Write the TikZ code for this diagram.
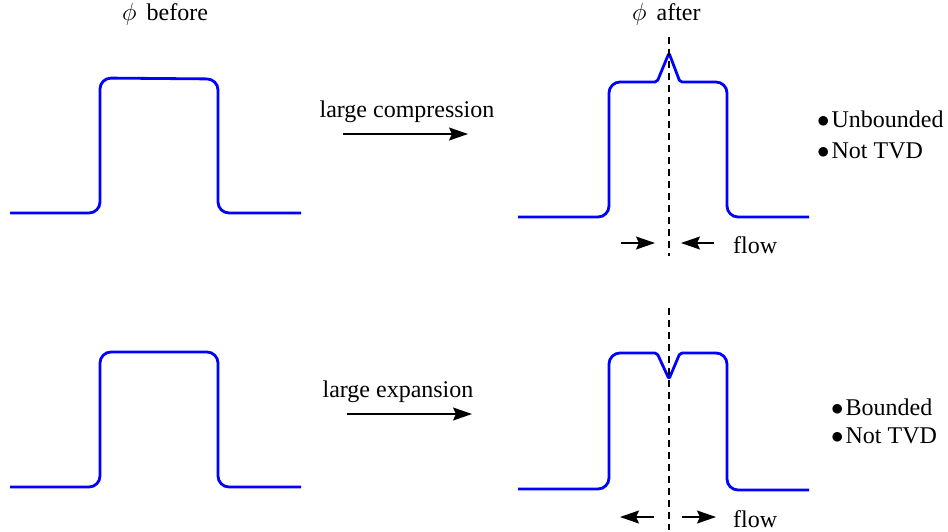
\documentclass[tikz,border=0pt]{standalone}
\usepackage{fontspec}
\setmainfont{Liberation Serif}
\usetikzlibrary{arrows.meta}
\tikzset{
  curve/.style={draw=blue,line width=2.8pt,rounded corners=11pt,line join=round},
  arr/.style={draw=black,line width=1.4pt,arrows={-Stealth[length=19pt,width=13pt,inset=3pt]}},
  axis/.style={draw=black,line width=1.2pt,dash pattern=on 7pt off 5pt},
  lbl/.style={inner sep=0pt,anchor=base,font=\fontsize{24}{28}\selectfont},
  lblw/.style={inner sep=0pt,anchor=base west,font=\fontsize{24}{28}\selectfont}}
\begin{document}
\begin{tikzpicture}[x=1pt,y=-1pt]
\useasboundingbox (0,0) rectangle (948,531);
% titles
\node[lblw] (tbefore) at (122,20) {$\phi$\hspace{10pt}before};
\node[lblw] (tafter) at (632,20) {$\phi$\hspace{10pt}after};
% top row curves
\draw[curve] (10,213) -- (100,213) -- (100,78) -- (218,79) -- (218,213) -- (301,213);
\draw[curve] (518,217) -- (609,217) -- (609,82) [rounded corners=2pt] -- (657,82) -- (669,53) -- (680,82) [rounded corners=11pt] -- (727,82) -- (727,217) -- (809,217);
% bottom row curves
\draw[curve] (10,487) -- (100,487) -- (100,352) -- (218,352) -- (218,487) -- (301,487);
\draw[curve] (518,489) -- (609,489) -- (609,353) [rounded corners=2pt] -- (657,353) -- (669,379) -- (680,353) [rounded corners=11pt] -- (727,353) -- (727,490) -- (809,490);
% dashed axes
\coordinate (d1t) at (669,37);
\coordinate (d1b) at (669,256);
\coordinate (d2t) at (669,308);
\coordinate (d2b) at (669,530);
\draw[axis] (d1t) -- (d1b);
\draw[axis] (d2t) -- (d2b);
% process arrows
\node[lbl] (lc) at (407,117) {large compression};
\coordinate (c1s) at (343,134);
\coordinate (c1e) at (468,134);
\draw[arr] (c1s) -- (c1e);
\node[lbl] (le) at (398,397) {large expansion};
\coordinate (c2s) at (347,414);
\coordinate (c2e) at (472,414);
\draw[arr] (c2s) -- (c2e);
% flow arrows top
\coordinate (f1a) at (621,243);
\coordinate (f1b) at (655,243);
\coordinate (f1c) at (714,243);
\coordinate (f1d) at (681,243);
\draw[arr] (f1a) -- (f1b);
\draw[arr] (f1c) -- (f1d);
\node[lblw] (flow1) at (733,253) {flow};
% flow arrows bottom
\coordinate (f2a) at (654,517);
\coordinate (f2b) at (620,517);
\coordinate (f2c) at (682,517);
\coordinate (f2d) at (716,517);
\draw[arr] (f2a) -- (f2b);
\draw[arr] (f2c) -- (f2d);
\node[lblw] (flow2) at (733,527) {flow};
% properties
\node[lblw] (p1) at (817,127) {$\bullet$\hspace{2pt}Unbounded};
\node[lblw] (p2) at (817,158) {$\bullet$\hspace{2pt}Not TVD};
\node[lblw] (p3) at (831,415) {$\bullet$\hspace{2pt}Bounded};
\node[lblw] (p4) at (831,443) {$\bullet$\hspace{2pt}Not TVD};
\end{tikzpicture}
\end{document}
